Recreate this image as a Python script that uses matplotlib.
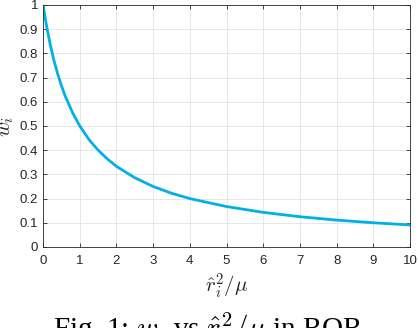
import numpy as np
import matplotlib
matplotlib.use("Agg")
import matplotlib.pyplot as plt

plt.rcParams['mathtext.fontset'] = 'cm'
plt.rcParams['font.family'] = ['Liberation Sans', 'DejaVu Sans']

# values
r2mu = [0, 0.1, 0.2, 0.3, 0.4, 0.5, 0.6, 0.8, 1.0, 1.25, 1.5, 1.75, 2.0,
        2.5, 3.0, 3.5, 4.0, 5.0, 6.0, 7.0, 8.0, 9.0, 10.0]
w = [1.0, 0.909, 0.833, 0.769, 0.714, 0.667, 0.625, 0.556, 0.5, 0.444,
     0.4, 0.364, 0.333, 0.286, 0.25, 0.222, 0.2, 0.167, 0.143, 0.125,
     0.111, 0.1, 0.091]

xticks = list(range(0, 11))
yticks = [0, 0.1, 0.2, 0.3, 0.4, 0.5, 0.6, 0.7, 0.8, 0.9, 1]
ylabs = ['0', '0.1', '0.2', '0.3', '0.4', '0.5', '0.6', '0.7', '0.8', '0.9', '1']

fig = plt.figure(figsize=(4.18, 3.28), dpi=100)
ax = fig.add_axes([0.103, 0.247, 0.878, 0.738])

ax.plot(r2mu, w, color='#00b0e6', lw=2.0, solid_capstyle='butt')

ax.set_xlim(0, 10)
ax.set_ylim(0, 1)
ax.set_xticks(xticks)
ax.set_yticks(yticks)
ax.set_yticklabels(ylabs)
ax.grid(True, color='#e3e3e3', lw=0.6)
ax.set_axisbelow(True)
ax.tick_params(direction='in', length=3, width=0.6, top=True, right=True,
               labelsize=9.5, colors='#262626')
ax.tick_params(axis='x', pad=6)
for s in ax.spines.values():
    s.set_linewidth(0.6)
    s.set_color('#262626')

ax.set_xlabel(r'$\hat{r}_i^2/\mu$', fontsize=15, color='#262626', labelpad=3)
ax.set_ylabel(r'$w_i$', fontsize=15, color='#262626', labelpad=3)

# caption sits at the bottom edge, partly cut as in the source image
fig.text(0.5, 1 - 310 / 328, r'Fig. 1: $w_i$ vs $\hat{r}_i^2/\mu$ in ROR', ha='center',
         va='top', fontsize=21, family='Liberation Serif')

fig.savefig('out.png', dpi=100)
